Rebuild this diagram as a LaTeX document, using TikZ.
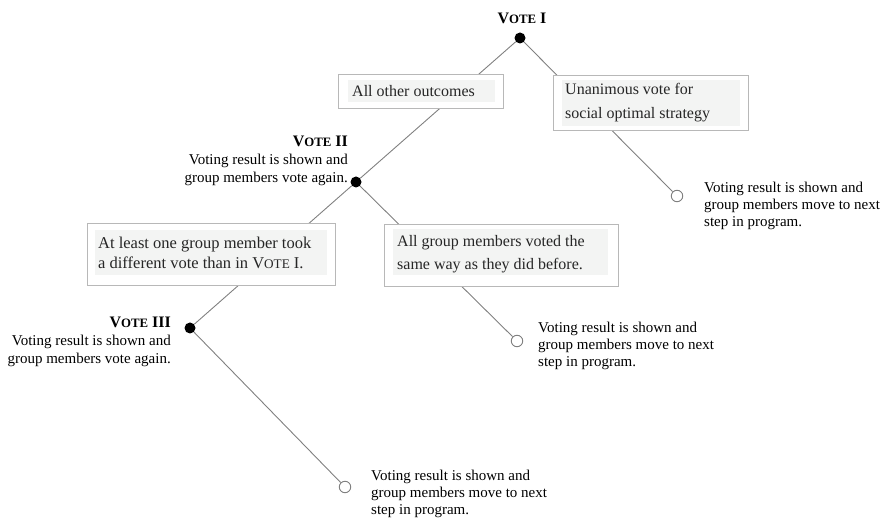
\documentclass[tikz,border=0pt]{standalone}
\usepackage{fontspec}
\setmainfont{Liberation Serif}
\usetikzlibrary{calc}
\definecolor{linec}{HTML}{808080}
\definecolor{boxborder}{HTML}{B8B8B8}
\definecolor{boxfill}{HTML}{F3F4F3}
\definecolor{txt}{HTML}{262626}
\newcommand{\vote}{V\scalebox{0.8}{OTE}}
\begin{document}
\begin{tikzpicture}[x=1pt,y=-1pt,
  conn/.style={draw=linec, line width=0.9pt},
  choice/.style={circle, fill=black, inner sep=0pt, minimum size=11pt},
  endpt/.style={circle, draw=linec, fill=white, line width=0.9pt, inner sep=0pt, minimum size=11.5pt},
  outerbox/.style={draw=boxborder, fill=white, line width=0.9pt, inner sep=0pt},
  boxtext/.style={text=txt, inner sep=0pt, align=left, anchor=west},
  lbl/.style={inner sep=0pt, font=\fontsize{15}{17}\selectfont},
  head/.style={inner sep=0pt, font=\fontsize{15}{18}\selectfont},
]
\useasboundingbox (0,0) rectangle (884,518);

% decision points and end points
\node[choice] (v1) at (520,38) {};
\node[choice] (v2) at (356,182) {};
\node[choice] (v3) at (190,328) {};
\node[endpt] (e1) at (677,196) {};
\node[endpt] (e2) at (517,341) {};
\node[endpt] (e3) at (345,487) {};

% connectors
\draw[conn] (v1) -- (v2);
\draw[conn] (v1) -- (e1);
\draw[conn] (v2) -- (v3);
\draw[conn] (v2) -- (e2);
\draw[conn] (v3) -- (e3);

% boxes
\node[outerbox, minimum width=165pt, minimum height=34pt] (b1o) at (420.5,91) {};
\fill[boxfill] ($(b1o.north west)+(10,6)$) rectangle ($(b1o.south east)+(-8,-6)$);
\node[boxtext, font=\fontsize{16}{22}\selectfont] (b1) at (352,91) {All other outcomes};

\node[outerbox, minimum width=195pt, minimum height=55pt] (b2o) at (650.5,102.5) {};
\fill[boxfill] ($(b2o.north west)+(9,5)$) rectangle ($(b2o.south east)+(-8,-4)$);
\node[boxtext, font=\fontsize{16}{24}\selectfont] (b2) at (565,103) {Unanimous vote for\\social optimal strategy};

\node[outerbox, minimum width=248pt, minimum height=62pt] (b3o) at (211,254) {};
\fill[boxfill] ($(b3o.north west)+(8,7)$) rectangle ($(b3o.south east)+(-8,-10)$);
\node[boxtext, font=\fontsize{16.5}{20}\selectfont] (b3) at (98,253) {At least one group member took\\a different vote than in \vote\ I.};

\node[outerbox, minimum width=234pt, minimum height=62pt] (b4o) at (501,255) {};
\fill[boxfill] ($(b4o.north west)+(9,5)$) rectangle ($(b4o.south east)+(-10,-11)$);
\node[boxtext, font=\fontsize{16}{23}\selectfont] (b4) at (397,254) {All group members voted the\\same way as they did before.};

% labels
\node[head] (t1) at (522,18) {\fontsize{16}{18}\selectfont\bfseries\vote\ I};
\node[head, anchor=east, align=right] (t2) at (348,161) {{\fontsize{16}{18}\selectfont\bfseries\vote\ II}\\Voting result is shown and\\group members vote again.};
\node[head, anchor=east, align=right] (t3) at (171,342) {{\fontsize{16}{18}\selectfont\bfseries\vote\ III}\\Voting result is shown and\\group members vote again.};

\node[lbl, anchor=west, align=left] (r1) at (704,206) {Voting result is shown and\\group members move to next\\step in program.};
\node[lbl, anchor=west, align=left] (r2) at (538,346) {Voting result is shown and\\group members move to next\\step in program.};
\node[lbl, anchor=west, align=left] (r3) at (371,494) {Voting result is shown and\\group members move to next\\step in program.};
\end{tikzpicture}
\end{document}
